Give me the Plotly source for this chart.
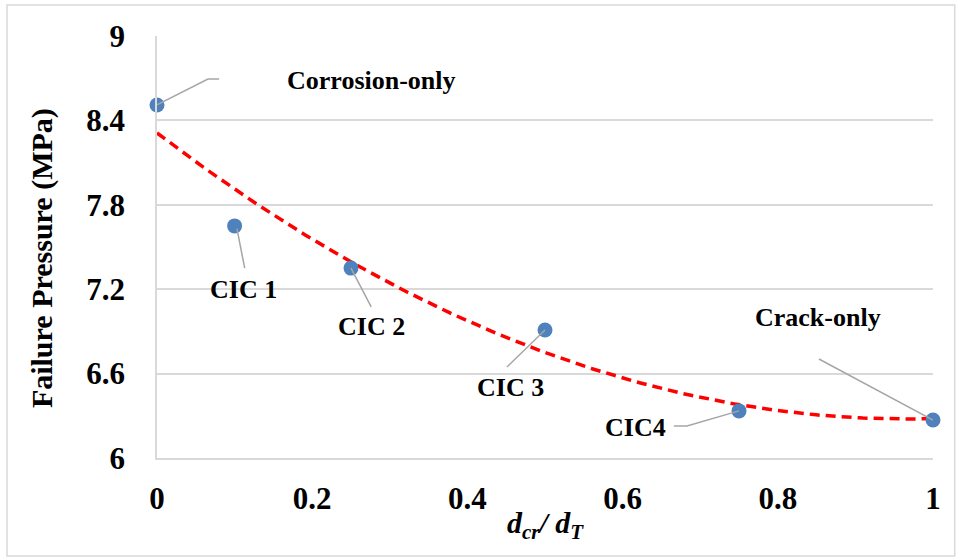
import numpy as np
import plotly.graph_objects as go

# Data
ratio = [0.0, 0.1, 0.25, 0.5, 0.75, 1.0]
pressure = [8.51, 7.65, 7.35, 6.91, 6.335, 6.27]
labels = ["Corrosion-only", "CIC 1", "CIC 2", "CIC 3", "CIC4", "Crack-only"]
x_ticks = [0, 0.2, 0.4, 0.6, 0.8, 1]
y_ticks = [6, 6.6, 7.2, 7.8, 8.4, 9]

# label positions (offsets from points, data units) and leader-line elbows
label_dx = [0.277, 0.012, 0.026, -0.045, -0.134, -0.148]
label_dy = [0.177, -0.455, -0.418, -0.412, -0.121, 0.726]
leader = [  # list of (dx, dy) offsets relative to the point for each leader polyline
    [(0.0, 0.0), (0.0657, 0.184), (0.08, 0.184)],
    [(0.003, -0.02), (0.013, -0.30)],
    [(0.0, 0.0), (0.026, -0.276)],
    [(0.0, 0.0), (-0.049, -0.263)],
    [(0.0, 0.0), (-0.067, -0.107), (-0.084, -0.107)],
    [(0.0, 0.0), (-0.147, 0.434)],
]

FONT = "Liberation Serif"

coef = np.polyfit(ratio, pressure, 2)
xf = np.linspace(0, 1, 200)
yf = np.polyval(coef, xf)

fig = go.Figure()
fig.add_trace(go.Scatter(x=xf, y=yf, mode="lines",
                         line=dict(color="#ff0000", width=3.5, dash="10px,6px"),
                         hoverinfo="skip", showlegend=False))
fig.add_trace(go.Scatter(x=ratio, y=pressure, mode="markers",
                         marker=dict(color="#4f81bd", size=15),
                         cliponaxis=False, showlegend=False))

shapes = []
for xi, yi, seg in zip(ratio, pressure, leader):
    path = " ".join(("M" if k == 0 else "L") + f"{xi+dx},{yi+dy}" for k, (dx, dy) in enumerate(seg))
    shapes.append(dict(type="path", path=path, xref="x", yref="y",
                       line=dict(color="#a6a6a6", width=1.5)))
# chart outer border
shapes.append(dict(type="rect", xref="paper", yref="paper", x0=-0.1933, x1=1.028,
                   y0=-0.2322, y1=1.0735, line=dict(color="#d9d9d9", width=1.5),
                   layer="below"))

annotations = []
for xi, yi, t, dx, dy in zip(ratio, pressure, labels, label_dx, label_dy):
    annotations.append(dict(x=xi+dx, y=yi+dy, text=f"<b>{t}</b>", showarrow=False,
                            font=dict(family=FONT, size=26, color="#000000"),
                            xanchor="center", yanchor="middle"))
# axis titles
annotations.append(dict(x=0.5, xref="paper", y=-0.159, yref="paper", showarrow=False,
                        text="<b><i>d<sub>cr</sub>/ d<sub>T</sub></i></b>",
                        font=dict(family=FONT, size=30, color="#000000"),
                        xanchor="center", yanchor="middle"))
annotations.append(dict(x=-0.148, xref="paper", y=0.474, yref="paper", showarrow=False,
                        text="<b>Failure Pressure (MPa)</b>", textangle=-90,
                        font=dict(family=FONT, size=30, color="#000000"),
                        xanchor="center", yanchor="middle"))

fig.update_layout(
    width=956, height=557,
    margin=dict(l=157, r=23, t=36, b=99),
    paper_bgcolor="white", plot_bgcolor="white",
    shapes=shapes, annotations=annotations,
    font=dict(family=FONT, color="#000000"),
)
fig.update_xaxes(range=[0, 1], tickvals=x_ticks, ticktext=[f"{v:g}" for v in x_ticks],
                 showgrid=False, zeroline=False, showline=True, linecolor="#d9d9d9", linewidth=1.5,
                 ticks="", ticklabelstandoff=12,
                 tickfont=dict(family=FONT, size=31, weight="bold", color="#000000"))
fig.update_yaxes(range=[6, 9], tickvals=y_ticks, ticktext=[f"{v:g}" for v in y_ticks],
                 showgrid=True, gridcolor="#d9d9d9", gridwidth=1.5, zeroline=False,
                 showline=True, linecolor="#d9d9d9", linewidth=1.5,
                 ticks="", ticklabelstandoff=24,
                 tickfont=dict(family=FONT, size=31, weight="bold", color="#000000"))

fig.write_html("out.html")
